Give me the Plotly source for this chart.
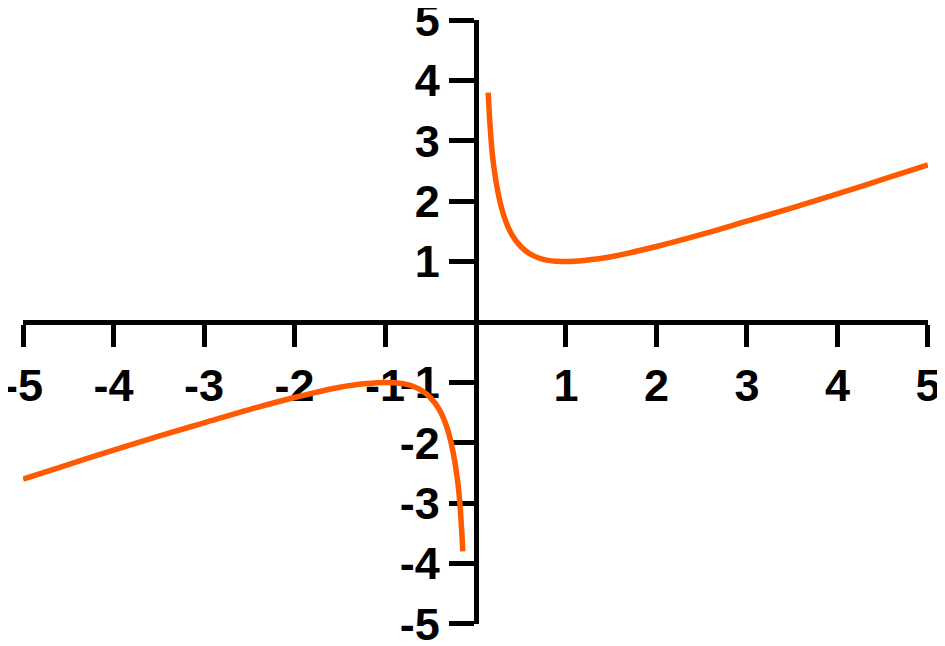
import plotly.graph_objects as go

# values
x_right = [0.14, 0.2, 0.3, 0.4, 0.5, 0.6, 0.7, 0.8, 0.9, 1.0, 1.2, 1.5, 2.0, 2.5, 3.0, 3.5, 4.0, 4.5, 5.0]
y_right = [3.8, 2.6, 1.82, 1.45, 1.25, 1.13, 1.06, 1.02, 1.005, 1.0, 1.02, 1.08, 1.25, 1.45, 1.67, 1.89, 2.12, 2.36, 2.6]
x_left = [-5.0, -4.5, -4.0, -3.5, -3.0, -2.5, -2.0, -1.5, -1.2, -1.0, -0.9, -0.8, -0.7, -0.6, -0.5, -0.4, -0.3, -0.2, -0.14]
y_left = [-2.6, -2.36, -2.12, -1.89, -1.67, -1.45, -1.25, -1.08, -1.02, -1.0, -1.005, -1.02, -1.06, -1.13, -1.25, -1.45, -1.82, -2.6, -3.8]
tick_vals = [-5, -4, -3, -2, -1, 1, 2, 3, 4, 5]

CURVE = '#FF5A00'

fig = go.Figure()
for xs, ys in [(x_right, y_right), (x_left, y_left)]:
    fig.add_trace(go.Scatter(x=xs, y=ys, mode='lines', line=dict(color=CURVE, width=5.5, shape='spline'),
                             showlegend=False, hoverinfo='skip'))

# axes cross at the origin, so both are free-floating in the middle of the plot
axis_style = dict(
    showgrid=False, zeroline=False, showline=True, linecolor='black', linewidth=4.5,
    ticks='outside', tickwidth=4.5, tickcolor='black',
    tickvals=tick_vals, ticktext=[str(v) for v in tick_vals],
    tickfont=dict(family='Liberation Sans', size=45, color='black', weight='bold'),
    anchor='free', position=0.5, layer='below traces', automargin=False,
    ticklabeloverflow='allow',
)
fig.update_xaxes(range=[-5.001, 5.001], ticklen=22, **axis_style)
fig.update_yaxes(range=[-5.001, 5.001], ticklen=25, **axis_style)

# the page body adds 8px around the plot div
fig.update_layout(
    width=945, height=646,
    margin=dict(l=15, r=25, t=12, b=30),
    plot_bgcolor='white', paper_bgcolor='white',
)

fig.write_html("out.html")
